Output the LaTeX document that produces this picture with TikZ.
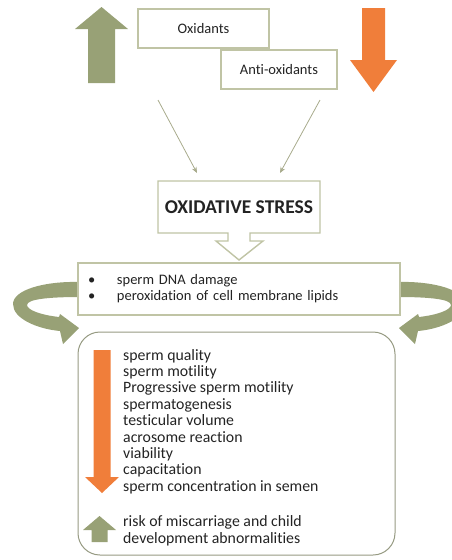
\documentclass[tikz,border=0pt]{standalone}
\usepackage{fontspec}
\setmainfont{Carlito}[Ligatures=NoCommon]
\usetikzlibrary{arrows.meta,positioning}
\definecolor{arrowgreen}{RGB}{152,161,118}
\definecolor{arroworange}{RGB}{240,126,58}
\definecolor{boxline}{RGB}{192,196,165}
\definecolor{thinline}{RGB}{168,171,140}
\definecolor{roundline}{RGB}{150,154,130}
\definecolor{textgrey}{RGB}{35,35,35}

\begin{document}
\begin{tikzpicture}[
x=1pt, y=-1pt,
box/.style={draw=boxline, line width=1.4pt, fill=white, inner sep=0pt, text=textgrey, font=\fontsize{14.5}{16}\selectfont},
list/.style={inner sep=0pt, align=left, text=textgrey, font=\fontsize{15.8}{16.4}\selectfont},
upfill/.style={fill=arrowgreen},
downfill/.style={fill=arroworange},
arr/.style={draw=thinline, line width=0.8pt, -{Stealth[length=6pt, width=5pt]}}
]
\useasboundingbox (0,0) rectangle (452,560);

% up and down block arrows at the top
\fill[upfill] (88,83) -- (88,29) -- (75,29) -- (101.5,7) -- (128,29) -- (115,29) -- (115,83) -- cycle;
\fill[downfill] (362,8) -- (385,8) -- (385,60) -- (397,60) -- (373.5,92) -- (350,60) -- (362,60) -- cycle;

\node[box, minimum width=131pt, minimum height=39pt] (oxi) at (203.5,28.5) {Oxidants};
\node[box, minimum width=116pt, minimum height=39pt] (anti) at (279,69.5) {Anti-oxidants};

\coordinate (oxsrc) at (158,100);
\coordinate (oxdst) at (197,173);
\coordinate (antisrc) at (320,100);
\coordinate (antidst) at (280,173);
\draw[arr] (oxsrc) -- (oxdst);
\draw[arr] (antisrc) -- (antidst);

% callout with the down arrow
\filldraw[draw=boxline, fill=white, line width=1.4pt] (158,181) -- (320,181) -- (320,233) -- (250,233) -- (250,241) -- (263,241) -- (239,260) -- (216,241) -- (228,241) -- (228,233) -- (158,233) -- cycle;
\node[text=textgrey, font=\fontsize{19.5}{22}\selectfont\bfseries] (stress) at (239,207) {OXIDATIVE STRESS};

% curved arrows round the effects box
\fill[upfill] (80,282) .. controls (44,281) and (13,290) .. (13,304) .. controls (13,319) and (38,329) .. (60,331) -- (63,344) -- (79,328) -- (60,314) -- (59,317) .. controls (41,315) and (27,310) .. (27,305) .. controls (27,299) and (50,297) .. (80,297) -- cycle;
\begin{scope}[shift={(478,0)}, xscale=-1]
\fill[upfill] (80,282) .. controls (44,281) and (13,290) .. (13,304) .. controls (13,319) and (38,329) .. (60,331) -- (63,344) -- (79,328) -- (60,314) -- (59,317) .. controls (41,315) and (27,310) .. (27,305) .. controls (27,299) and (50,297) .. (80,297) -- cycle;
\end{scope}

\node[box, minimum width=322pt, minimum height=52pt, text width=302pt, align=left] (effects) at (239,289)
  {\makebox[29pt][l]{\textbullet}sperm DNA damage\\\makebox[29pt][l]{\textbullet}peroxidation of cell membrane lipids};

% outcome box
\node[draw=roundline, line width=1pt, rounded corners=22pt, minimum width=317pt, minimum height=223pt] (outcome) at (236.5,443.5) {};
\fill[downfill] (93.5,350) -- (110.5,350) -- (110.5,477) -- (119,477) -- (102,493) -- (85,477) -- (93.5,477) -- cycle;
\fill[upfill] (99.5,516) -- (116,530) -- (107.5,530) -- (107.5,542) -- (91.5,542) -- (91.5,530) -- (83,530) -- cycle;

\node[list, anchor=north west] (decrease) at (123,349) {sperm quality\\sperm motility\\Progressive sperm motility\\spermatogenesis\\testicular volume\\acrosome reaction\\viability\\capacitation\\sperm concentration in semen};
\node[list, anchor=north west] (increase) at (123,515.5) {risk of miscarriage and child\\development abnormalities};
\end{tikzpicture}
\end{document}
